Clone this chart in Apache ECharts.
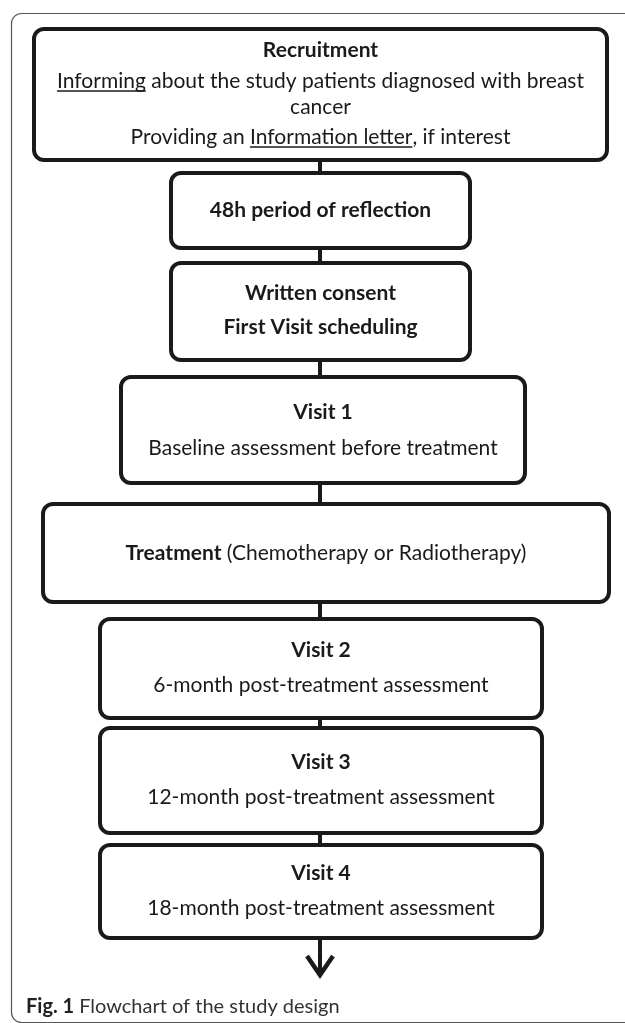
<!DOCTYPE html>
<html>
<head>
<meta charset="utf-8">
<style>
html, body { margin: 0; padding: 0; background: #fff; }
#flow { width: 625px; height: 1023px; }
</style>
<script src="https://cdn.jsdelivr.net/npm/echarts@6/dist/echarts.min.js"></script>
</head>
<body>
<div id="flow"></div>
<script>
// step text, one entry per box; each line is a list of [style, text] segments
// b = bold, n = normal, u = underlined
var stepNames = ['Recruitment', '48h period of reflection', 'Written consent', 'Visit 1',
                 'Treatment', 'Visit 2', 'Visit 3', 'Visit 4'];
var stepLines = [
  [[['b', 'Recruitment']],
   [['u', 'Informing'], ['n', ' about the study patients diagnosed with breast']],
   [['n', 'cancer']],
   [['n', 'Providing an '], ['u', 'Information letter'], ['n', ', if interest']]],
  [[['b', '48h period of reflection']]],
  [[['b', 'Written consent']], [['b', 'First Visit scheduling']]],
  [[['b', 'Visit 1']], [['n', 'Baseline assessment before treatment']]],
  [[['b', 'Treatment'], ['n', ' (Chemotherapy or Radiotherapy)']]],
  [[['b', 'Visit 2']], [['n', '6-month post-treatment assessment']]],
  [[['b', 'Visit 3']], [['n', '12-month post-treatment assessment']]],
  [[['b', 'Visit 4']], [['n', '18-month post-treatment assessment']]]
];
var captionBold = 'Fig. 1';
var captionText = 'Flowchart of the study design';

// page layout in axis units (the axes span the whole page)
var boxLayout = [
  { x0: 34,  x1: 607, y0: 29,  y1: 160, lines: [50, 81, 107, 137] },
  { x0: 171, x1: 470, y0: 173, y1: 248, lines: [210] },
  { x0: 171, x1: 470, y0: 263, y1: 360, lines: [293, 327] },
  { x0: 121, x1: 525, y0: 377, y1: 483, lines: [412, 448] },
  { x0: 43,  x1: 609, y0: 504, y1: 602, lines: [553] },
  { x0: 100, x1: 542, y0: 619, y1: 718, lines: [650, 685] },
  { x0: 100, x1: 542, y0: 728, y1: 833, lines: [762, 797] },
  { x0: 100, x1: 542, y0: 845, y1: 938, lines: [873, 908] }
];
var linkX = 320;
var arrowEnd = 977;

var FONT = 'Lato';
var FS = 21;
var INK = '#1a1a1a';

var measureCtx = document.createElement('canvas').getContext('2d');
function segWidth(seg) {
  measureCtx.font = (seg[0] === 'b' ? 'bold ' : 'normal ') + FS + 'px ' + FONT;
  return measureCtx.measureText(seg[1]).width;
}

var rich = {
  b: { fontFamily: FONT, fontSize: FS, fontWeight: 'bold', color: INK },
  n: { fontFamily: FONT, fontSize: FS, fontWeight: 'normal', color: INK },
  u: { fontFamily: FONT, fontSize: FS, fontWeight: 'normal', color: INK }
};

function renderStep(params, api) {
  var i = api.value(0);
  var b = boxLayout[i];
  var tl = api.coord([b.x0, b.y0]);
  var br = api.coord([b.x1, b.y1]);
  var cx = (tl[0] + br[0]) / 2;
  var last = i === boxLayout.length - 1;
  var kids = [];

  // link down to the next box (or the final arrow)
  var lx = api.coord([linkX, 0])[0];
  var endY = last ? api.coord([0, arrowEnd])[1] : api.coord([0, boxLayout[i + 1].y0])[1];
  kids.push({ type: 'line', shape: { x1: lx, y1: br[1], x2: lx, y2: endY - (last ? 3 : 0) },
              style: { stroke: INK, lineWidth: 4 } });
  if (last) {
    kids.push({ type: 'polyline', shape: { points: [[lx - 13, endY - 21], [lx, endY - 2], [lx + 13, endY - 21]] },
                style: { stroke: INK, lineWidth: 4.5, fill: null, lineJoin: 'miter' } });
  }

  kids.push({ type: 'rect', shape: { x: tl[0], y: tl[1], width: br[0] - tl[0], height: br[1] - tl[1], r: 10 },
              style: { fill: '#fff', stroke: INK, lineWidth: 4 } });

  stepLines[i].forEach(function (line, k) {
    var cy = api.coord([0, b.lines[k]])[1];
    var total = 0, parts = [];
    line.forEach(function (seg) {
      var w = segWidth(seg);
      parts.push({ seg: seg, start: total, w: w });
      total += w;
    });
    var txt = line.map(function (seg) { return '{' + seg[0] + '|' + seg[1] + '}'; }).join('');
    kids.push({ type: 'text', x: cx, y: cy,
                style: { text: txt, rich: rich, align: 'center', verticalAlign: 'middle',
                         fontFamily: FONT, fontSize: FS, fill: INK } });
    parts.forEach(function (p) {
      if (p.seg[0] !== 'u') return;
      var x1 = cx - total / 2 + p.start;
      kids.push({ type: 'line', shape: { x1: x1, y1: cy + 10, x2: x1 + p.w, y2: cy + 10 },
                  style: { stroke: INK, lineWidth: 1.6 } });
    });
  });

  return { type: 'group', children: kids };
}

var flow = echarts.init(document.getElementById('flow'));
var option = {
  animation: false,
  grid: { left: 0, right: 0, top: 0, bottom: 0 },
  xAxis: { type: 'value', min: 0, max: 625, show: false },
  yAxis: { type: 'value', min: 0, max: 1023, inverse: true, show: false },
  title: {
    text: '{b|' + captionBold + '} {n|' + captionText + '}',
    left: 21, top: 992,
    textStyle: {
      rich: {
        b: { fontFamily: FONT, fontSize: 20, fontWeight: 'bold', color: '#222' },
        n: { fontFamily: FONT, fontSize: 20, fontWeight: 'normal', color: '#333' }
      }
    }
  },
  graphic: [{
    type: 'rect', left: 9, top: 11, silent: true,
    shape: { width: 640, height: 1009, r: 10 },
    style: { fill: null, stroke: '#555', lineWidth: 1.2 }
  }],
  series: [{
    type: 'custom',
    silent: true,
    clip: false,
    renderItem: renderStep,
    data: stepNames.map(function (name, i) { return [i, name]; })
  }]
};
flow.setOption(option);
</script>
</body>
</html>
